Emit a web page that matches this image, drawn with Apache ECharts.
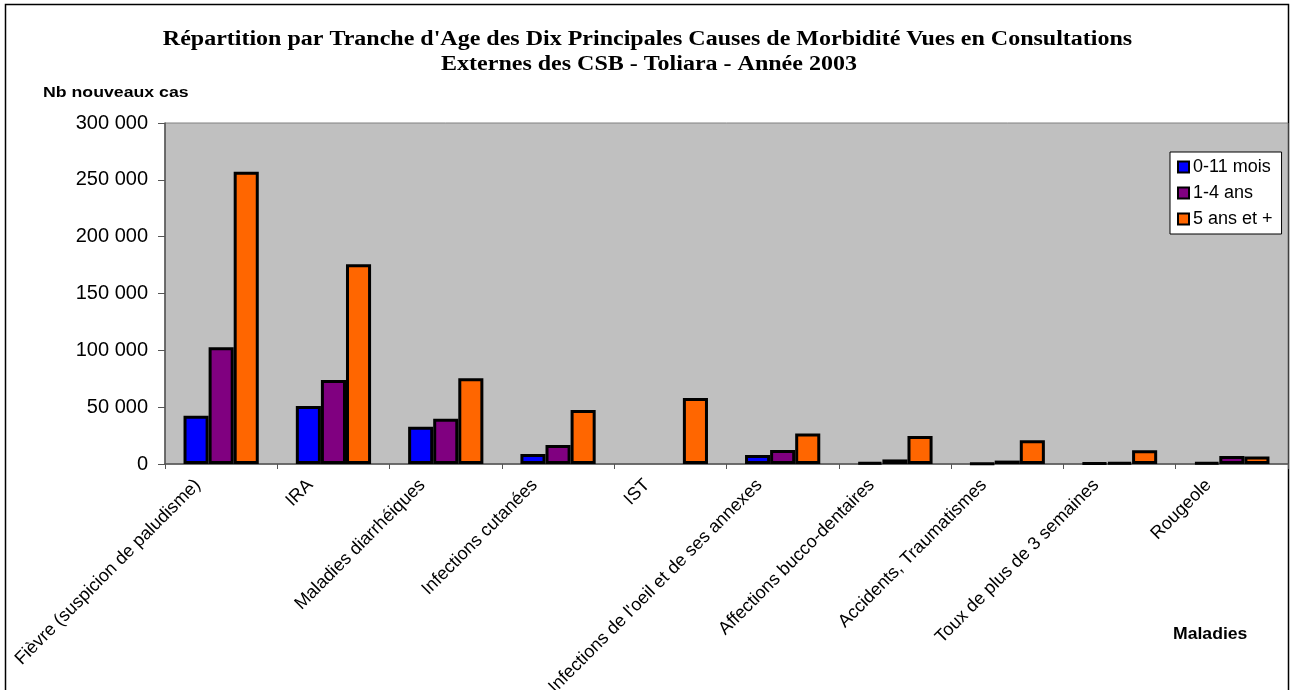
<!DOCTYPE html>
<html>
<head>
<meta charset="utf-8">
<script src="https://cdn.jsdelivr.net/npm/echarts@6/dist/echarts.min.js"></script>
<style>
html,body{margin:0;padding:0;background:#fff;}
#chart{width:1291px;height:690px;}
</style>
</head>
<body>
<div id="chart"></div>
<script>
const categories = [
  "Fièvre (suspicion de paludisme)",
  "IRA",
  "Maladies diarrhéiques",
  "Infections cutanées",
  "IST",
  "Infections de l'oeil et de ses annexes",
  "Affections bucco-dentaires",
  "Accidents, Traumatismes",
  "Toux de plus de 3 semaines",
  "Rougeole"
];
const seriesNames = ["0-11 mois", "1-4 ans", "5 ans et +"];
const mois0_11 = [42500, 51000, 32800, 8800, null, 7900, 1500, 500, 800, 1200];
const ans1_4 = [102700, 73900, 39900, 16700, null, 12300, 4000, 3000, 1500, 7000];
const ans5plus = [257200, 175700, 75400, 47500, 58000, 26900, 24600, 21000, 12000, 6500];
const yTicks = [0, 50000, 100000, 150000, 200000, 250000, 300000];
const titleLines = [
  "Répartition par Tranche d'Age des Dix Principales Causes de Morbidité Vues en Consultations",
  "Externes des CSB - Toliara - Année 2003"
];
const yTitle = "Nb nouveaux cas";
const xTitle = "Maladies";

const colors = ['#0000FF', '#800080', '#FF6600'];
const fmt = v => String(v).replace(/\B(?=(\d{3})+(?!\d))/g, ' ');

const chart = echarts.init(document.getElementById('chart'));
const mk = (name, data, i) => ({
  name: name,
  type: 'bar',
  data: data,
  barGap: '0%',
  barCategoryGap: '33%',
  itemStyle: { color: colors[i], borderColor: '#000', borderWidth: 3 },
  emphasis: { disabled: true },
  animation: false
});

chart.setOption({
  animation: false,
  legend: {
    orient: 'vertical',
    left: 1170,
    top: 152,
    padding: [6, 9, 6, 7],
    itemGap: 8,
    itemWidth: 11,
    itemHeight: 11,
    backgroundColor: '#fff',
    borderColor: '#000',
    borderWidth: 1,
    borderRadius: 0,
    icon: 'rect',
    itemStyle: { borderColor: '#000', borderWidth: 2 },
    textStyle: { fontFamily: 'Liberation Sans', fontSize: 18, color: '#000', padding: [0, 0, 0, -1] },
    data: seriesNames
  },
  grid: {
    left: 165,
    top: 123,
    width: 1123,
    height: 341,
    containLabel: false,
    outerBoundsMode: 'none',
    show: true,
    backgroundColor: '#C0C0C0',
    borderColor: '#808080',
    borderWidth: 1
  },
  xAxis: {
    type: 'category',
    data: categories,
    axisLine: { lineStyle: { color: '#555', width: 1.5 } },
    axisTick: { show: true, length: 5, lineStyle: { color: '#555' } },
    axisLabel: {
      interval: 0,
      rotate: 45,
      margin: -5,
      padding: [0, 33, 0, 0],
      fontFamily: 'Liberation Sans',
      fontSize: 18,
      color: '#000'
    }
  },
  yAxis: {
    type: 'value',
    min: 0,
    max: 300000,
    interval: 50000,
    splitLine: { show: false },
    axisLine: { show: true, lineStyle: { color: '#555', width: 1.5 } },
    axisTick: { show: true, length: 7, lineStyle: { color: '#555' } },
    axisLabel: {
      fontFamily: 'Liberation Sans',
      fontSize: 20,
      color: '#000',
      margin: 17,
      formatter: v => yTicks.indexOf(v) >= 0 ? fmt(v) : ''
    }
  },
  graphic: [
    {
      type: 'rect',
      silent: true,
      z: -10,
      shape: { x: 5.5, y: 4.5, width: 1283, height: 700 },
      style: { fill: 'none', stroke: '#000', lineWidth: 1.5 }
    },
    {
      type: 'text',
      x: 647.5, y: 40, scaleX: 1.2,
      style: { text: titleLines[0], font: 'bold 20px "Liberation Serif"', fill: '#000', textAlign: 'center', textVerticalAlign: 'middle' }
    },
    {
      type: 'text',
      x: 649, y: 65, scaleX: 1.2,
      style: { text: titleLines[1], font: 'bold 20px "Liberation Serif"', fill: '#000', textAlign: 'center', textVerticalAlign: 'middle' }
    },
    {
      type: 'text',
      x: 43, y: 93, scaleX: 1.18,
      style: { text: yTitle, font: 'bold 15px "Liberation Sans"', fill: '#000', textAlign: 'left', textVerticalAlign: 'middle' }
    },
    {
      type: 'text',
      x: 1173, y: 635, scaleX: 1.1,
      style: { text: xTitle, font: 'bold 16px "Liberation Sans"', fill: '#000', textAlign: 'left', textVerticalAlign: 'middle' }
    }
  ],
  series: [
    mk(seriesNames[0], mois0_11, 0),
    mk(seriesNames[1], ans1_4, 1),
    mk(seriesNames[2], ans5plus, 2)
  ]
});
</script>
</body>
</html>
